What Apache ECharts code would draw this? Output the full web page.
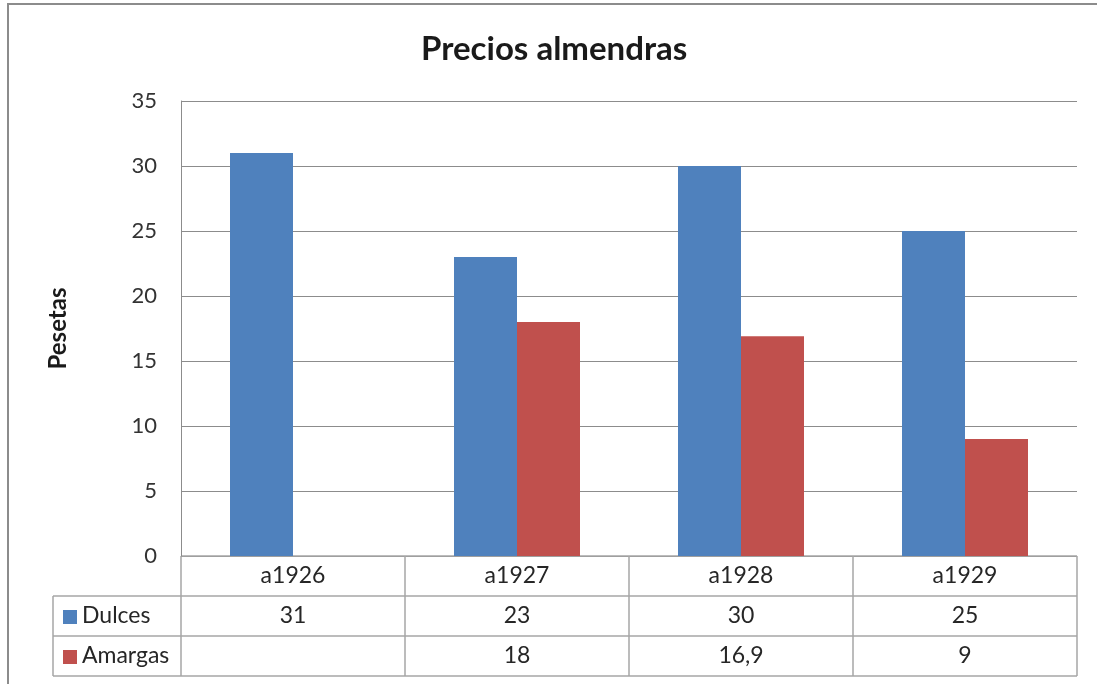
<!DOCTYPE html>
<html>
<head>
<meta charset="utf-8">
<script src="https://cdn.jsdelivr.net/npm/echarts@6/dist/echarts.min.js"></script>
<style>
  html, body { margin: 0; padding: 0; background: #ffffff; }
  #chart { width: 1097px; height: 684px; }
</style>
</head>
<body>
<div id="chart"></div>
<script>
// Almond prices per year, in pesetas
const categories = ['a1926', 'a1927', 'a1928', 'a1929'];
const dulces = [31, 23, 30, 25];
const amargas = [null, 18, 16.9, 9];
const seriesNames = ['Dulces', 'Amargas'];
const yTicks = { min: 0, max: 35, interval: 5 };

const COLORS = ['#4F81BD', '#C0504D'];
const FONT = 'Lato, "Noto Sans", sans-serif';
const TEXT = '#262626';
const TABLE_FONT = 23;

// Plot and data-table geometry
const plot = { left: 181, right: 1077, top: 101, bottom: 556 };
const tableLeft = 53;
const rowH = 40;

const fmt = v => (v === null || v === undefined) ? '' : String(v).replace('.', ',');

const chart = echarts.init(document.getElementById('chart'), null, { renderer: 'canvas' });

const option = {
  animation: false,
  backgroundColor: '#ffffff',
  title: {
    text: 'Precios almendras',
    left: 421,
    top: 33,
    padding: 0,
    textStyle: { fontFamily: FONT, fontSize: 33, fontWeight: 'bold', color: '#1a1a1a' }
  },
  grid: {
    left: plot.left,
    right: 1097 - plot.right,
    top: plot.top,
    bottom: 684 - plot.bottom,
    containLabel: false
  },
  xAxis: {
    type: 'category',
    data: categories,
    axisLine: { show: false },
    axisTick: { show: false },
    axisLabel: {
      show: true,
      fontFamily: FONT,
      fontSize: TABLE_FONT,
      color: TEXT,
      margin: 8
    }
  },
  yAxis: {
    type: 'value',
    min: yTicks.min,
    max: yTicks.max,
    interval: yTicks.interval,
    name: 'Pesetas',
    nameLocation: 'middle',
    nameRotate: 90,
    nameGap: 111,
    nameTextStyle: { fontFamily: FONT, fontSize: 24, fontWeight: 'bold', color: '#1a1a1a' },
    axisLine: { show: true, lineStyle: { color: '#8c8c8c', width: 1 } },
    axisTick: { show: false },
    axisLabel: { fontFamily: FONT, fontSize: 22, color: '#333333', margin: 24 },
    splitLine: { show: true, lineStyle: { color: '#8c8c8c', width: 1 } }
  },
  series: [
    {
      name: seriesNames[0],
      type: 'bar',
      data: dulces,
      barWidth: 63,
      barGap: '0%',
      itemStyle: { color: COLORS[0] }
    },
    {
      name: seriesNames[1],
      type: 'bar',
      data: amargas,
      barWidth: 63,
      barGap: '0%',
      itemStyle: { color: COLORS[1] }
    }
  ]
};

chart.setOption(option);

// Data table under the plot: grid lines, legend keys and values
function buildTable() {
  const els = [];
  const line = { stroke: '#a6a6a6', lineWidth: 1.5 };
  const colW = (plot.right - plot.left) / categories.length;
  const y0 = plot.bottom;
  const y1 = y0 + rowH, y2 = y1 + rowH, y3 = y2 + rowH;

  // horizontal rules
  els.push({ type: 'line', shape: { x1: plot.left, y1: y0, x2: plot.right, y2: y0 }, style: line, silent: true });
  [y1, y2, y3].forEach(y => {
    els.push({ type: 'line', shape: { x1: tableLeft, y1: y, x2: plot.right, y2: y }, style: line, silent: true });
  });
  // vertical rules
  els.push({ type: 'line', shape: { x1: tableLeft, y1: y1, x2: tableLeft, y2: y3 }, style: line, silent: true });
  for (let i = 0; i <= categories.length; i++) {
    const x = plot.left + i * colW;
    els.push({ type: 'line', shape: { x1: x, y1: y0, x2: x, y2: y3 }, style: line, silent: true });
  }

  const rows = [dulces, amargas];
  rows.forEach((vals, r) => {
    const cy = y1 + r * rowH + rowH / 2;
    // legend key
    els.push({ type: 'rect', shape: { x: tableLeft + 10, y: cy - 6, width: 14, height: 14 }, style: { fill: COLORS[r] }, silent: true });
    els.push({
      type: 'text', x: tableLeft + 29, y: cy,
      style: { text: seriesNames[r], fontFamily: FONT, fontSize: TABLE_FONT, fill: TEXT, align: 'left', verticalAlign: 'middle' },
      silent: true
    });
    vals.forEach((v, i) => {
      const cx = chart.convertToPixel({ xAxisIndex: 0 }, categories[i]);
      els.push({
        type: 'text', x: cx, y: cy,
        style: { text: fmt(v), fontFamily: FONT, fontSize: TABLE_FONT, fill: TEXT, align: 'center', verticalAlign: 'middle' },
        silent: true
      });
    });
  });

  // outer chart frame
  els.push({
    type: 'rect', shape: { x: 8, y: 4, width: 1200, height: 800 },
    style: { fill: 'none', stroke: '#8c8c8c', lineWidth: 2 }, silent: true
  });
  return els;
}

chart.setOption({ graphic: { elements: buildTable() } });
</script>
</body>
</html>
